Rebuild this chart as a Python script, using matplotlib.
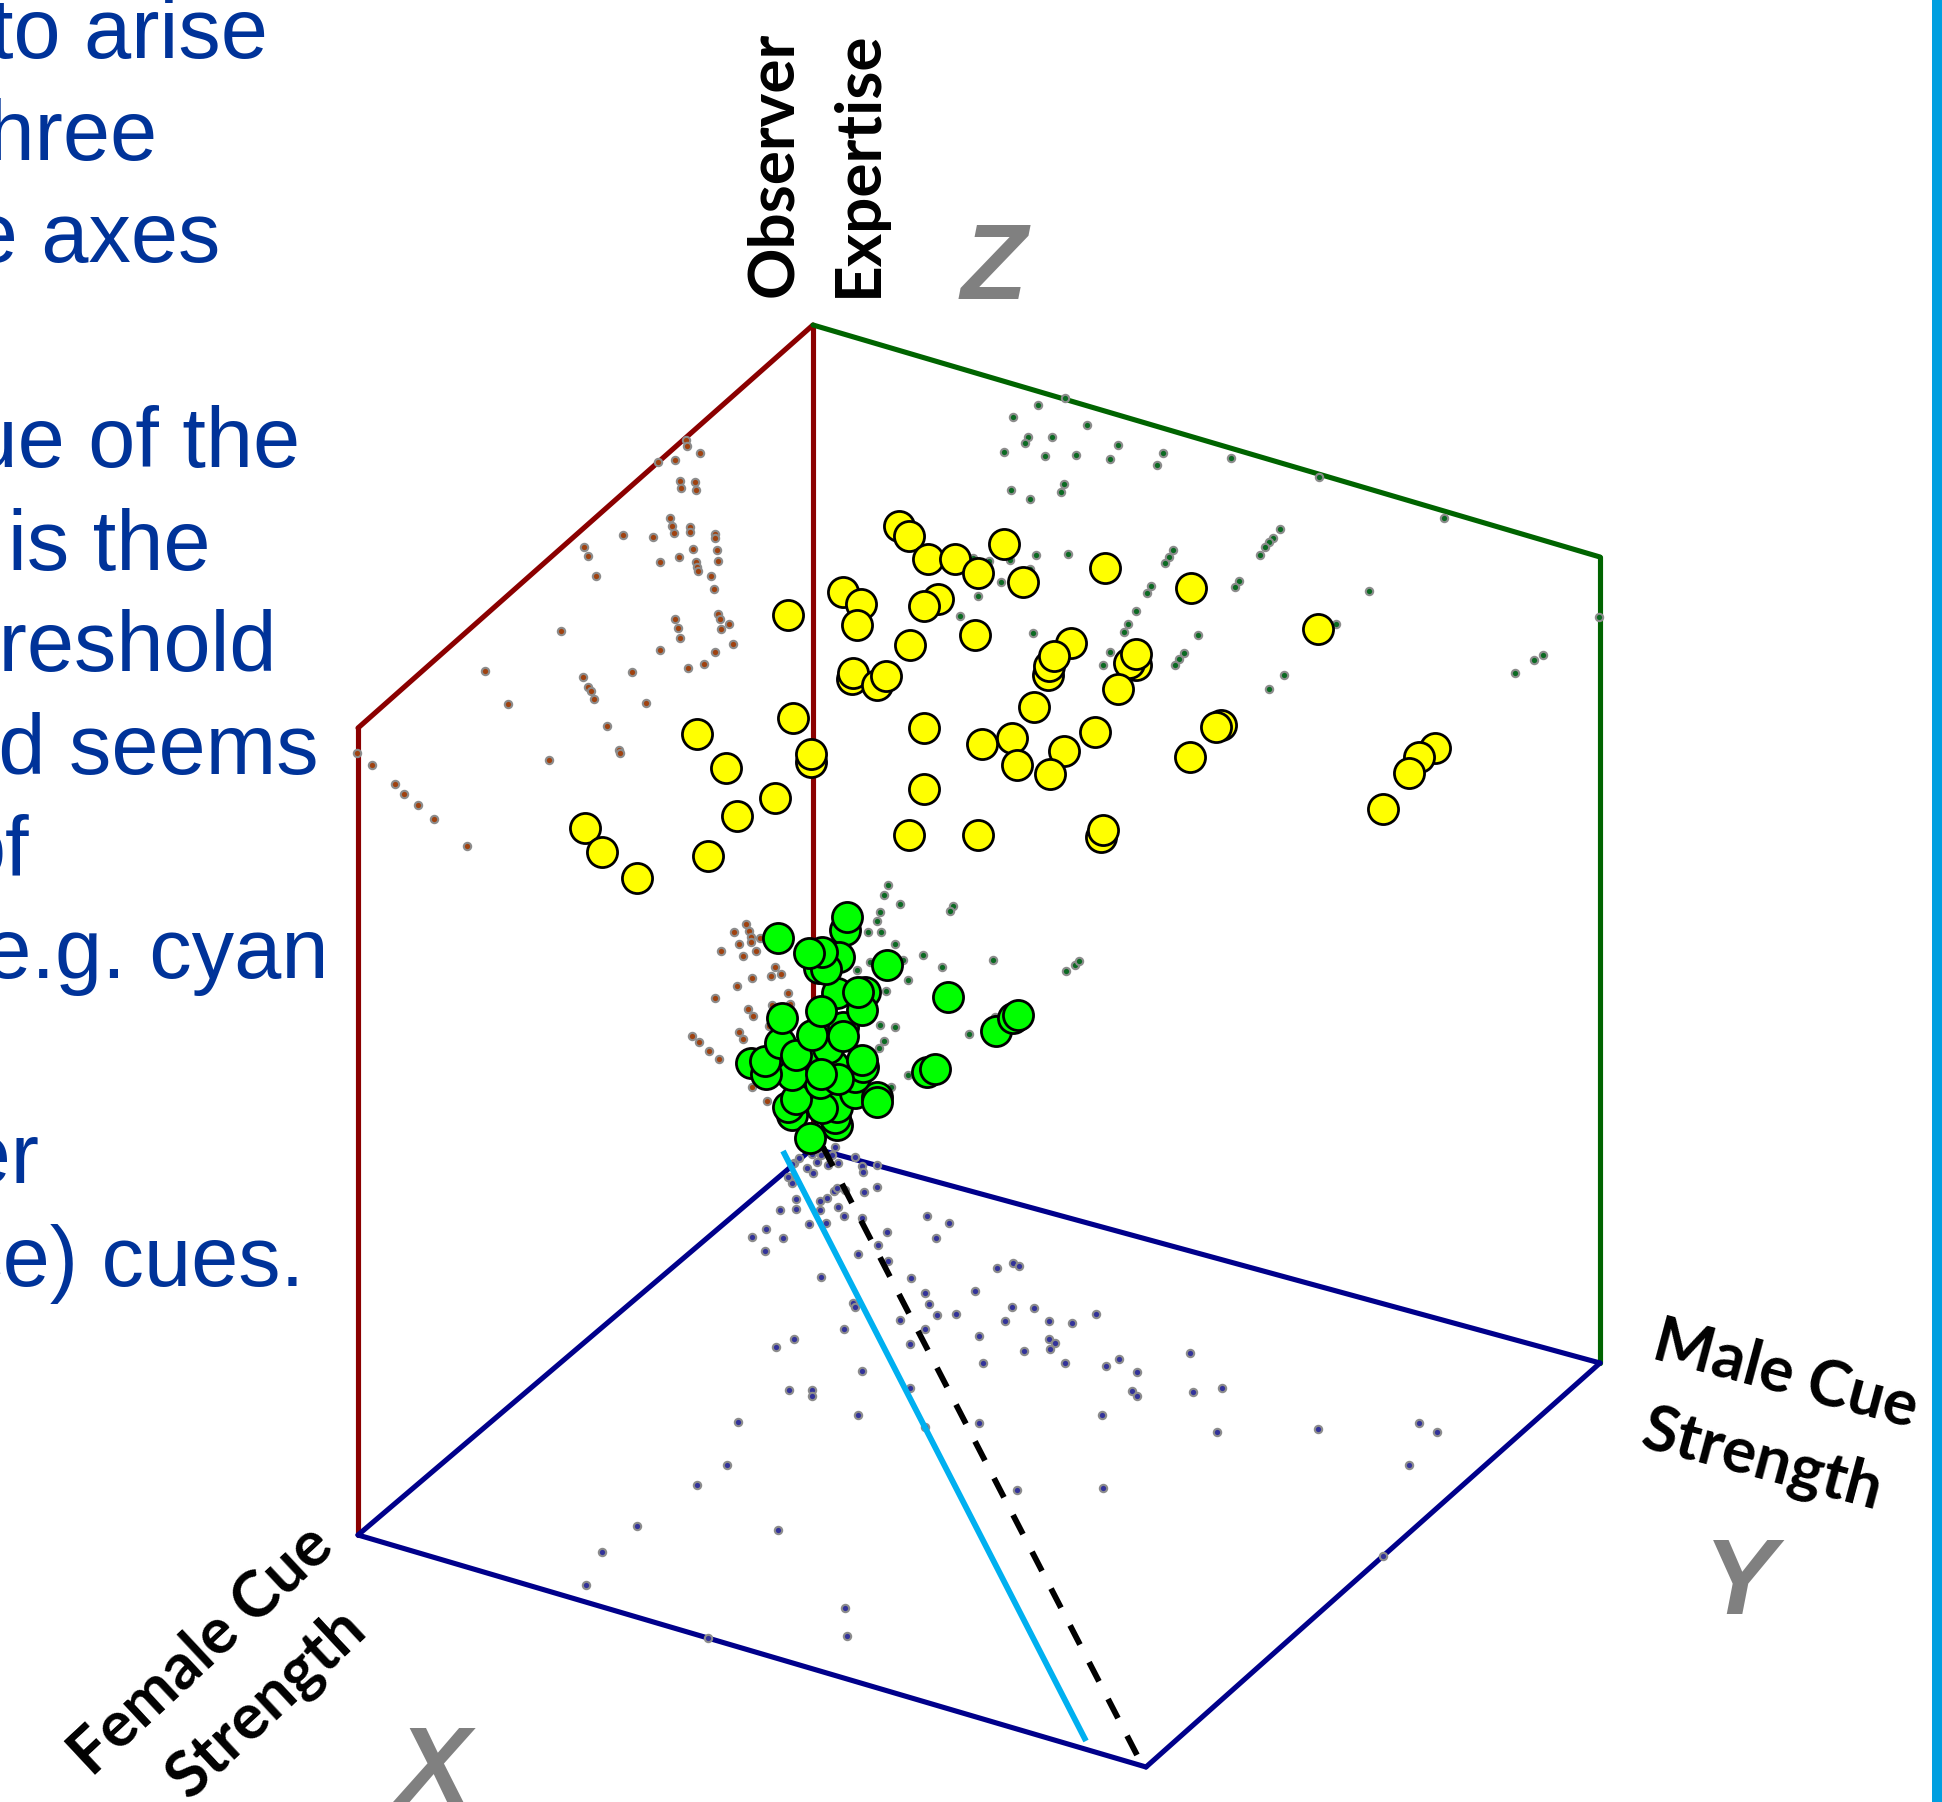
"""Observer expertise cube: projected scatter with side-wall shadows."""
import matplotlib
matplotlib.use("Agg")
import matplotlib.pyplot as plt

W, H = 1942, 1802

# values, in picture units
corner_top = (813, 325)
corner_left_up = (358, 728)
corner_left_low = (358, 1535)
corner_inner = (813, 1148)
corner_right_up = (1600, 557)
corner_right_low = (1600, 1363)
corner_bottom = (1146, 1767)

cyan_x = [783, 1086]
cyan_y = [1151, 1741]
dash_x = [823, 1137]
dash_y = [1147, 1755]

brown_x = [686, 687, 700, 675, 658, 680, 695, 681, 696, 670, 672, 674, 690, 690, 623, 653, 715, 715, 584, 588,
           693, 717, 679, 718, 660, 696, 697, 698, 596, 711, 714, 718, 720, 675, 729, 678, 721, 561, 680, 733,
           660, 715, 704, 688, 485, 632, 583, 588, 591, 594, 508, 646, 607, 619, 620, 549, 357, 372, 395, 404,
           418, 434, 467, 746, 734, 749, 751, 751, 760, 739, 743, 756, 721, 775, 771, 781, 752, 737, 788, 715,
           748, 753, 772, 790, 739, 743, 692, 699, 709, 719, 752, 767, 769]
brown_y = [440, 446, 453, 460, 462, 481, 482, 488, 490, 518, 526, 533, 527, 532, 535, 537, 534, 538, 547, 556,
           549, 550, 557, 561, 562, 562, 567, 571, 576, 576, 589, 614, 619, 619, 624, 628, 629, 631, 638, 644,
           650, 652, 664, 668, 671, 672, 677, 687, 691, 699, 704, 703, 726, 750, 753, 760, 753, 765, 784, 794,
           805, 819, 846, 924, 932, 931, 937, 942, 938, 944, 956, 951, 951, 967, 976, 974, 978, 986, 993, 998,
           1009, 1016, 1005, 1004, 1032, 1039, 1036, 1042, 1051, 1059, 1087, 1101, 1026]

green_x = [1065, 1038, 1013, 1087, 1028, 1025, 1052, 1004, 1045, 1076, 1118, 1110, 1163, 1157, 1231, 1319, 1444,
           1011, 1030, 1064, 1061, 1280, 1273, 1269, 1265, 1260, 1173, 1169, 1165, 1036, 1068, 1010, 989, 973,
           1030, 1001, 978, 1151, 1147, 1239, 1235, 1369, 1136, 1128, 1124, 1336, 1599, 1033, 1198, 1110, 1103,
           1184, 1179, 1175, 1284, 1269, 1543, 1534, 1515, 960, 888, 884, 900, 953, 950, 880, 877, 868, 881, 895,
           923, 903, 870, 993, 942, 857, 908, 886, 880, 895, 969, 884, 879, 1066, 1075, 1079, 908, 891, 995]
green_y = [398, 405, 417, 425, 437, 443, 437, 452, 456, 455, 445, 459, 453, 465, 458, 477, 518,
           490, 499, 484, 492, 529, 538, 542, 547, 555, 550, 557, 563, 555, 554, 560, 561, 558,
           569, 582, 596, 586, 593, 581, 587, 591, 611, 624, 632, 624, 617, 633, 635, 652, 665,
           653, 659, 665, 675, 689, 655, 660, 673, 616, 885, 895, 904, 906, 911, 912, 921, 932, 932, 944,
           955, 960, 962, 960, 967, 970, 980, 991, 1025, 1027, 1034, 1041, 1048, 971, 965, 961, 1075, 1087, 1017]

blue_x = [835, 832, 821, 812, 799, 794, 817, 828, 838, 855, 862, 863, 877, 807, 813, 789, 792, 834, 837, 845,
          864, 877, 796, 827, 820, 780, 796, 820, 838, 844, 862, 927, 949, 766, 752, 783, 809, 826, 887, 936,
          765, 858, 878, 888, 997, 1013, 1019, 821, 911, 925, 975, 853, 855, 929, 937, 956, 1012, 1034, 900,
          1005, 1049, 1072, 1096, 844, 925, 979, 794, 776, 910, 1049, 1055, 1050, 1024, 983, 1065, 1106, 1119,
          1137, 1190, 862, 789, 812, 812, 910, 1132, 1137, 1193, 1222, 858, 738, 979, 1102, 925, 1217, 727,
          1017, 1103, 778, 1318, 1419, 1437, 1409, 1383, 708, 586, 602, 637, 845, 847, 697, 792, 788]
blue_y = [1147, 1155, 1155, 1154, 1158, 1163, 1162, 1165, 1163, 1157, 1166, 1172, 1165, 1168, 1173, 1177, 1183,
          1191, 1188, 1190, 1192, 1187, 1199, 1198, 1201, 1210, 1209, 1210, 1207, 1216, 1218, 1216, 1223, 1229,
          1237, 1238, 1224, 1223, 1232, 1238, 1251, 1254, 1245, 1261, 1268, 1263, 1266, 1277, 1278, 1293, 1291,
          1303, 1307, 1304, 1315, 1314, 1307, 1308, 1320, 1321, 1321, 1323, 1314, 1329, 1329, 1336, 1339, 1347,
          1344, 1339, 1343, 1349, 1351, 1363, 1363, 1366, 1359, 1372, 1353, 1371, 1390, 1390, 1396, 1388, 1391,
          1396, 1392, 1388, 1415, 1422, 1423, 1415, 1427, 1432, 1465, 1490, 1488, 1530, 1429, 1423, 1432, 1465,
          1556, 1638, 1585, 1552, 1526, 1608, 1636, 1485, 1164, 1177]

yellow_x = [788, 793, 697, 726, 811, 811, 775, 737, 708, 585, 602, 637, 899, 909, 928, 955, 978, 1004, 1023, 1105,
            1191, 843, 861, 857, 938, 924, 975, 910, 1318, 1071, 1048, 1049, 1054, 1136, 1129, 1136, 852, 853, 877,
            886, 1118, 1034, 1221, 1216, 924, 1095, 1012, 982, 1064, 1190, 1017, 1050, 1435, 1419, 1409, 1383,
            924, 909, 978, 1101, 1103]
yellow_y = [615, 718, 734, 768, 762, 754, 798, 816, 856, 828, 852, 878, 526, 536, 559, 559, 573, 544, 582, 568,
            588, 592, 604, 625, 599, 606, 635, 645, 629, 643, 675, 666, 656, 665, 663, 654, 679, 673, 685,
            676, 689, 707, 725, 727, 728, 732, 738, 744, 751, 757, 765, 774, 748, 757, 773, 809,
            789, 835, 835, 837, 830]

# listed back to front, the overlaps in the clump depend on it
lime_x = [837, 835, 792, 837, 788, 822, 796, 855, 877, 877, 820, 855, 833, 813, 863, 862, 792, 751, 766, 765,
          780, 828, 796, 838, 821, 843, 812, 843, 782, 865, 837, 862, 858, 821,
          845, 847, 778, 839, 819, 826, 822, 809, 887, 948, 996, 1013, 1018, 927, 935, 810]
lime_y = [1125, 1118, 1115, 1107, 1107, 1108, 1099, 1093, 1097, 1102, 1083, 1077, 1065, 1063, 1067, 1060, 1075, 1063, 1074, 1061,
          1043, 1048, 1055, 1079, 1074, 1027, 1035, 1036, 1018, 992, 993, 1010, 992, 1011,
          930, 917, 938, 957, 968, 969, 952, 953, 965, 997, 1031, 1018, 1015, 1072, 1069, 1138]

text_lines = ["to arise", "three", "the axes", "value of the", "is the", "threshold",
              "and seems", "of", "(e.g. cyan", "other", "(face) cues."]
text_right = [268, 158, 220, 300, 210, 277, 319, 29, 329, 40, 304]
text_base = [58, 160, 262, 467, 570, 671, 774, 876, 978, 1183, 1286]


def frame(ax, p, q, color):
    ax.plot([p[0], q[0]], [p[1], q[1]], color=color, lw=3.7, solid_capstyle="round", zorder=2)


fig = plt.figure(figsize=(W / 100, H / 100), dpi=100, facecolor="white")
ax = fig.add_axes([0, 0, 1, 1])
ax.set_xlim(0, W)
ax.set_ylim(H, 0)
ax.axis("off")

ax.axvspan(1932, W, color="#009fe0", lw=0, zorder=1)

frame(ax, corner_left_up, corner_top, "#8b0000")
frame(ax, corner_left_up, corner_left_low, "#8b0000")
frame(ax, corner_top, corner_inner, "#8b0000")
frame(ax, corner_top, corner_right_up, "#006400")
frame(ax, corner_right_up, corner_right_low, "#006400")
frame(ax, corner_left_low, corner_inner, "#00008b")
frame(ax, corner_inner, corner_right_low, "#00008b")
frame(ax, corner_left_low, corner_bottom, "#00008b")
frame(ax, corner_bottom, corner_right_low, "#00008b")

dots = dict(s=28, edgecolors="#8c8c8c", linewidths=1.5, zorder=3)
ax.scatter(brown_x, brown_y, c="#a0420f", **dots)
ax.scatter(green_x, green_y, c="#0b6a22", **dots)
ax.scatter(blue_x, blue_y, c="#33339a", **dots)

ax.plot(dash_x, dash_y, color="black", lw=4.2, dashes=(3.7, 3.4), dash_capstyle="butt", zorder=4)
ax.plot(cyan_x, cyan_y, color="#00b0f0", lw=4.2, solid_capstyle="butt", zorder=4)

big = dict(s=470, edgecolors="black", linewidths=2.0, zorder=5)
ax.scatter(yellow_x, yellow_y, c="#ffff00", **big)
ax.scatter(lime_x, lime_y, c="#00ff00", **big)

for line, right, base in zip(text_lines, text_right, text_base):
    ax.text(right, base, line, color="#003399", fontsize=61, family="Liberation Sans",
            ha="right", va="baseline", zorder=6)

label = dict(family="Lato", weight="bold", fontsize=46, color="black", ha="center", va="center",
             rotation_mode="anchor", zorder=6)
ax.text(774, 164, "Observer", rotation=90, **label)
ax.text(858, 164, "Expertise", rotation=90, **label)
ax.text(201, 1650, "Female Cue", rotation=43, **label)
ax.text(266, 1703, "Strength", rotation=43, **label)
ax.text(1786, 1375, "Male Cue", rotation=-15, **label)
ax.text(1762, 1460, "Strength", rotation=-15, **label)

axis_name = dict(family="Liberation Sans", weight="bold", style="italic", fontsize=78, color="#808080",
                 ha="center", va="baseline", zorder=6)
ax.text(994, 299, "Z", **axis_name)
ax.text(434, 1802, "X", **axis_name)
ax.text(1740, 1614, "Y", **axis_name)

fig.savefig("out.png", dpi=100)
